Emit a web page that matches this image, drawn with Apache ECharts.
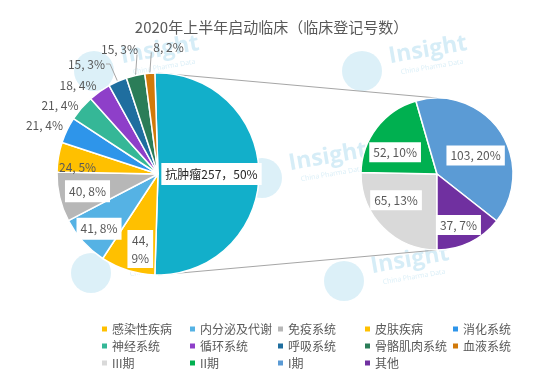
<!DOCTYPE html>
<html><head><meta charset="utf-8">
<script src="https://cdn.jsdelivr.net/npm/echarts/dist/echarts.min.js"></script>
<style>html,body{margin:0;padding:0;background:#fff}#c{width:543px;height:378px}</style>
</head><body><div id="c"></div>
<script>
// ---- data ----
const mainNames = ['抗肿瘤','感染性疾病','内分泌及代谢','免疫系统','皮肤疾病','消化系统','神经系统','循环系统','呼吸系统','骨骼肌肉系统','血液系统'];
const mainValues = [257,44,41,40,24,21,21,18,15,15,8];
const mainPercents = ['50%','9%','8%','8%','5%','4%','4%','4%','3%','3%','2%'];
const subNames = ['III期','II期','I期','其他'];
const subValues = [65,52,103,37];
const subPercents = ['13%','10%','20%','7%'];
const titleText = '2020年上半年启动临床（临床登记号数）';

// ---- styling / layout ----
const mainColors = ['#12AFCA','#FFC000','#55B2E4','#B7B7B7','#FFC000','#2E95EA','#35B797','#8E3FC9','#1F6E9F','#2B7D58','#D1790A'];
const subColors = ['#D9D9D9','#00B050','#5B9BD5','#7030A0'];
const MC = [158,174], MR = 101;
const SC = [437,174], SR = 76;
const FONT = '"Noto Sans CJK SC","Noto Sans",sans-serif';
const GRAY = '#595959';
const mainTotal = mainValues.reduce((a,b)=>a+b,0);
// split slice centred on the horizontal, facing the secondary pie
const mainStart = 90 + (mainValues[0]/mainTotal*360 - 180)/2;
// label placement mode for main slices
const mainLabelMode = ['center','ring','ring','ring','ringPlain','out','out','out','outLine','outUp','outUpRight'];
// small label nudges [dx, dy] (style only)
const ringNudge = {1:[5,3], 2:[-3,4], 3:[3,0], 4:[-6,6]};
const outNudge = {5:[-1,-5], 6:[0,-3], 7:[0,-6]};
const subNudge = [[-6,-8],[-3,8],[-2,9],[0,7]];

const boxLabel = {backgroundColor:'#fff', padding:[4,4], color:GRAY, fontSize:12, fontFamily:FONT};

const mainData = mainNames.map((n,i)=>{
  const d = {name:n, value:mainValues[i], itemStyle:{color:mainColors[i]}};
  const m = mainLabelMode[i];
  const fmt = p => p.value + ', ' + mainPercents[i];
  if (m==='center') {
    d.label = Object.assign({}, boxLabel, {show:true, position:'inside', color:'#262626', padding:[5,4],
      formatter: p => p.name + p.value + '，' + mainPercents[i]});
  } else if (m==='out') {
    d.label = {show:true, position:'outside', distanceToLabelLine:3, formatter: fmt};
    d.labelLine = {show:false, length:0, length2:0};
  } else if (m==='outLine') {
    d.label = {show:true, position:'outside', distanceToLabelLine:1, formatter: fmt};
    d.labelLine = {show:true, length:19, length2:4, lineStyle:{color:'#A6A6A6', width:1}};
  } else if (m==='outUp' || m==='outUpRight') {
    d.label = {show:true, position:'outside', distanceToLabelLine:1, formatter: fmt};
    d.labelLine = {show:true, length:24, length2:0, lineStyle:{color:'#A6A6A6', width:1}};
  } else {
    d.label = {show:false};
    d.labelLine = {show:false};
  }
  return d;
});

const ringData = mainNames.map((n,i)=>{
  const m = mainLabelMode[i];
  const d = {name:n, value:mainValues[i]};
  if (m==='ring') {
    const two = (i===1);
    d.label = Object.assign({}, boxLabel, {show:true, position:'inside', lineHeight: two ? 18 : 14, padding: two ? [1,4] : [4,4],
      formatter: p => (two ? p.value + ',\n' + mainPercents[i] : p.value + ', ' + mainPercents[i])});
  } else if (m==='ringPlain') {
    d.label = {show:true, position:'inside', color:GRAY, fontSize:12, fontFamily:FONT,
      formatter: p => p.value + ', ' + mainPercents[i]};
  } else {
    d.label = {show:false};
  }
  return d;
});

const subData = subNames.map((n,i)=>({name:n, value:subValues[i], itemStyle:{color:subColors[i]}}));
const subRingData = subNames.map((n,i)=>({name:n, value:subValues[i],
  label: Object.assign({}, boxLabel, {show:true, position:'inside', formatter: p => p.value + ', ' + subPercents[i]})}));

const legendCols = [
  ['感染性疾病','神经系统','III期'],
  ['内分泌及代谢','循环系统','II期'],
  ['免疫系统','呼吸系统','I期'],
  ['皮肤疾病','骨骼肌肉系统','其他'],
  ['消化系统','血液系统']
];
const legendLeft = [102,190,278,365,453];

// watermark placements (decoration)
const wmPos = [[160,50],[428,50],[328,157],[157,252],[410,260]];
const watermark = [];
wmPos.forEach(([x,y])=>{
  watermark.push({type:'circle', shape:{cx:x-66, cy:y+21, r:20}, style:{fill:'rgba(140,205,232,0.30)'}, z:0, silent:true});
  watermark.push({type:'text', x:x, y:y, rotation:0.17, style:{text:'Insight', fill:'rgba(120,195,228,0.30)', font:'bold 23px "Open Sans", sans-serif', align:'center', verticalAlign:'middle'}, z:0, silent:true});
  watermark.push({type:'text', x:x+4, y:y+17, rotation:0.17, style:{text:'China Pharma Data', fill:'rgba(120,195,228,0.28)', font:'7px "Open Sans", sans-serif', align:'center', verticalAlign:'middle'}, z:0, silent:true});
});

const connectors = [
  {type:'line', shape:{x1:MC[0], y1:MC[1]-MR, x2:SC[0], y2:SC[1]-SR}, style:{stroke:'#A6A6A6', lineWidth:1}, z:1, silent:true},
  {type:'line', shape:{x1:MC[0], y1:MC[1]+MR, x2:SC[0], y2:SC[1]+SR}, style:{stroke:'#A6A6A6', lineWidth:1}, z:1, silent:true}
];

function mainLabelLayout(p){
  const i = p.dataIndex;
  const m = mainLabelMode[i];
  const pts = p.labelLinePoints;
  if (outNudge[i]) return {dx: outNudge[i][0], dy: outNudge[i][1]};
  if ((m==='outUp' || m==='outUpRight') && pts && pts.length) {
    const e = pts[0];
    const top = [e[0] + 1.5, e[1] - 21];
    if (m==='outUp') {
      return {x: top[0] + 1, y: top[1] - 5, align:'right', verticalAlign:'middle', labelLinePoints:[e, top]};
    }
    return {x: top[0] + 2, y: top[1] - 5, align:'left', verticalAlign:'middle', labelLinePoints:[e, top]};
  }
  return {};
}

const chart = echarts.init(document.getElementById('c'), null, {renderer:'canvas'});
chart.setOption({
  backgroundColor:'#fff',
  animation:false,
  title:{text:titleText, left:'center', top:15, textStyle:{fontSize:15, fontWeight:'normal', color:GRAY, fontFamily:FONT}},
  legend: legendCols.map((d,i)=>({orient:'vertical', left:legendLeft[i], top:323, padding:0, itemWidth:5, itemHeight:5, itemGap:5, icon:'rect', selectedMode:false, data:d,
    itemStyle:{borderWidth:0},
    textStyle:{fontSize:12, color:GRAY, fontFamily:FONT, lineHeight:12}})),
  graphic: watermark.concat(connectors),
  series:[
    {type:'pie', name:'main', center:MC, radius:[0,MR], startAngle:mainStart, clockwise:true, avoidLabelOverlap:false,
     itemStyle:{borderColor:'#fff', borderWidth:1.5}, label:{color:GRAY, fontSize:12, fontFamily:FONT}, emphasis:{disabled:true},
     labelLayout: mainLabelLayout, data:mainData, z:2},
    {type:'pie', name:'mainLabels', center:MC, radius:[44,MR], startAngle:mainStart, clockwise:true, silent:true, avoidLabelOverlap:false,
     itemStyle:{color:'rgba(0,0,0,0)', borderWidth:0}, labelLine:{show:false}, emphasis:{disabled:true}, legendHoverLink:false,
     labelLayout: p => { const n = ringNudge[p.dataIndex]; return n ? {dx:n[0], dy:n[1], hideOverlap:false} : {hideOverlap:false}; },
     data:ringData, z:3},
    {type:'pie', name:'sub', center:SC, radius:[0,SR], startAngle:-90, clockwise:true,
     itemStyle:{borderColor:'#fff', borderWidth:1.5}, label:{show:false}, labelLine:{show:false}, emphasis:{disabled:true},
     data:subData, z:2},
    {type:'pie', name:'subLabels', center:SC, radius:[16,SR], startAngle:-90, clockwise:true, silent:true, avoidLabelOverlap:false,
     itemStyle:{color:'rgba(0,0,0,0)', borderWidth:0}, labelLine:{show:false}, emphasis:{disabled:true}, legendHoverLink:false,
     labelLayout: p => { const n = subNudge[p.dataIndex]; return n ? {dx:n[0], dy:n[1], hideOverlap:false} : {hideOverlap:false}; },
     data:subRingData, z:3}
  ]
});
</script></body></html>
